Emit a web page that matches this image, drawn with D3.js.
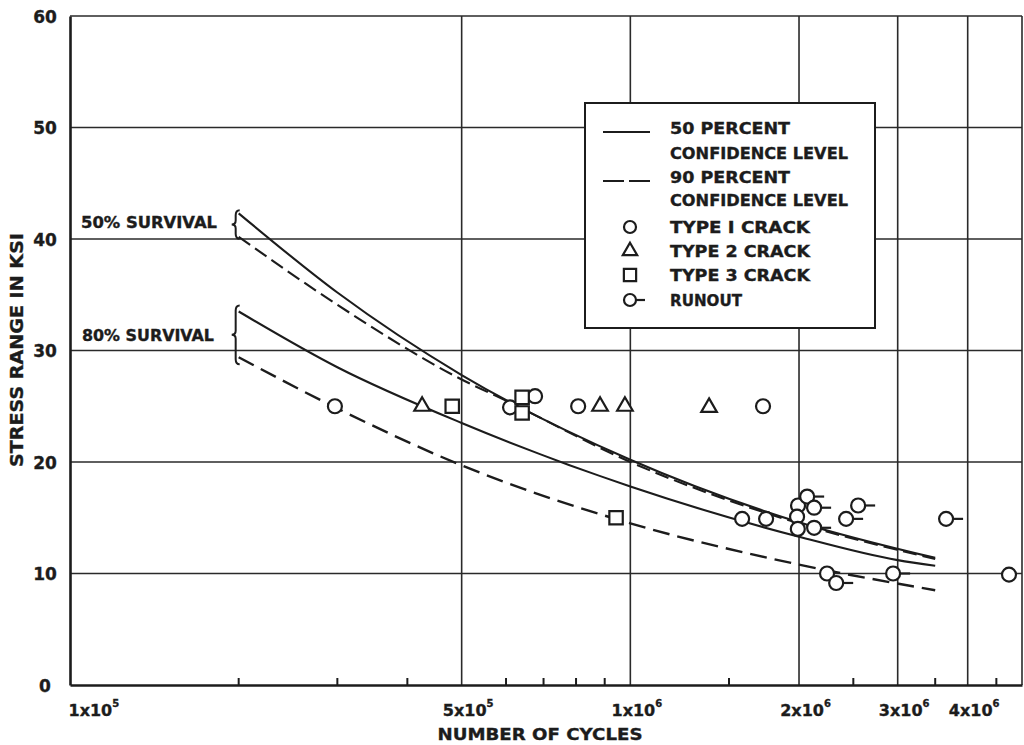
<!DOCTYPE html>
<html>
<head>
<meta charset="utf-8">
<script src="https://cdn.jsdelivr.net/npm/d3@7"></script>
<style>
  body { margin: 0; background: #fff; }
  svg { display: block; }
  text { font-family: "DejaVu Sans", sans-serif; font-weight: bold; fill: #1c1c1c; stroke: #1c1c1c; stroke-width: 0.35px; }
</style>
</head>
<body>
<svg id="chart" width="1024" height="745"></svg>
<script>
// ---- axis ticks ----
const yTicks = [0, 10, 20, 30, 40, 50, 60];
const yGridValues = [10, 20, 30, 40, 50, 60];
const xMajor = [1e5, 5e5, 1e6, 2e6, 3e6, 4e6];
const xMantissa = ["1", "5", "1", "2", "3", "4"];
const xExponent = ["5", "5", "6", "6", "6", "6"];
const xGridValues = [5e5, 1e6, 2e6, 3e6, 4e6, 5e6];
const xMinor = [2e5, 3e5, 4e5, 6e5, 7e5, 8e5, 9e5, 1.5e6, 2.5e6, 3.5e6, 4.5e6];

// ---- S-N curves: [cycles, stress range ksi] ----
const survival50Conf50 = [[2e5, 42.3], [3e5, 35.2], [5e5, 27.8], [1e6, 20.2], [2e6, 14.6], [3.5e6, 11.4]];
const survival50Conf90 = [[2e5, 40.2], [3e5, 34.1], [5e5, 27.4], [6e5, 25.5], [1e6, 20.0], [2e6, 14.5], [3.5e6, 11.3]];
const survival80Conf50 = [[2e5, 33.5], [3e5, 28.5], [5e5, 23.5], [1e6, 17.8], [2e6, 13.3], [3e6, 11.2], [3.5e6, 10.7]];
const survival80Conf90 = [[2e5, 29.4], [3e5, 24.8], [5e5, 19.7], [1e6, 14.5], [2e6, 10.8], [3.5e6, 8.5]];

// ---- test results: [cycles, stress range ksi] ----
const typeOneCracks = [[2.97e5, 25], [6.1e5, 24.9], [6.76e5, 25.9], [8.07e5, 25], [1.725e6, 25],
  [1.583e6, 14.9], [1.747e6, 14.9], [1.992e6, 16.1], [1.984e6, 15.1], [1.99e6, 14.0],
  [2.244e6, 10.0], [4.74e6, 9.9]];
const typeTwoCracks = [[4.25e5, 25], [8.83e5, 25], [9.78e5, 25], [1.382e6, 24.9]];
const typeThreeCracks = [[4.81e5, 25], [6.41e5, 25.8], [6.41e5, 24.4], [9.43e5, 15.0]];
const runouts = [[2.068e6, 16.9], [2.128e6, 15.9], [2.128e6, 14.1], [2.55e6, 16.1], [2.427e6, 14.9],
  [3.66e6, 14.9], [2.33e6, 9.15], [2.944e6, 10.0]];

const legendLabels = ["50 PERCENT", "CONFIDENCE LEVEL", "90 PERCENT", "CONFIDENCE LEVEL",
  "TYPE I CRACK", "TYPE 2 CRACK", "TYPE 3 CRACK", "RUNOUT"];

const ink = "#1c1c1c";
const svg = d3.select("#chart");

const x = d3.scaleLog().domain([1e5, 5e6]).range([70, 1022]);
const y = d3.scaleLinear().domain([0, 60]).range([685, 16]);

// ---- grid ----
const grid = svg.append("g").attr("stroke", "#2a2a2a").attr("stroke-width", 1.6);
grid.selectAll("line.h").data(yGridValues).join("line")
  .attr("x1", x(1e5)).attr("x2", x(5e6))
  .attr("y1", d => y(d)).attr("y2", d => y(d));
grid.selectAll("line.v").data(xGridValues).join("line")
  .attr("x1", d => x(d)).attr("x2", d => x(d))
  .attr("y1", y(0)).attr("y2", y(60));
svg.append("g").attr("stroke", ink).attr("stroke-width", 2)
  .selectAll("line").data(xMinor).join("line")
  .attr("x1", d => x(d)).attr("x2", d => x(d))
  .attr("y1", y(0)).attr("y2", y(0) - 7);

// ---- axes ----
const yAxis = svg.append("g").attr("transform", `translate(${x(1e5)},0)`)
  .call(d3.axisLeft(y).tickValues(yTicks).tickSize(0).tickSizeOuter(0));
yAxis.select(".domain").attr("stroke", ink).attr("stroke-width", 2.6);
yAxis.selectAll("text").attr("x", -25).attr("text-anchor", "middle")
  .attr("dy", "0.37em").style("font-size", "17px");

const xAxis = svg.append("g").attr("transform", `translate(0,${y(0)})`)
  .call(d3.axisBottom(x).tickValues(xMajor).tickSize(0).tickSizeOuter(0).tickFormat(() => ""));
xAxis.select(".domain").attr("stroke", ink).attr("stroke-width", 2.6);
xAxis.selectAll(".tick text").each(function(d, i) {
  const t = d3.select(this)
    .attr("y", 31).attr("dy", null)
    .attr("text-anchor", i === 0 ? "start" : "middle")
    .attr("dx", i === 0 ? -2 : 6)
    .style("font-size", "16px");
  t.text(null);
  t.append("tspan").text(xMantissa[i] + "x10");
  t.append("tspan").attr("dy", -9).style("font-size", "10px").text(xExponent[i]);
});

// axis titles
svg.append("text").attr("x", 540).attr("y", 740).attr("text-anchor", "middle")
  .attr("textLength", 205).attr("lengthAdjust", "spacingAndGlyphs")
  .style("font-size", "16px").text("NUMBER OF CYCLES");
svg.append("text").attr("transform", "translate(23,350) rotate(-90)")
  .attr("text-anchor", "middle")
  .attr("textLength", 234).attr("lengthAdjust", "spacingAndGlyphs")
  .style("font-size", "17px").text("STRESS RANGE IN KSI");

// ---- curves ----
const line = d3.line().x(d => x(d[0])).y(d => y(d[1])).curve(d3.curveMonotoneX);
const curves = svg.append("g").attr("fill", "none").attr("stroke", ink).attr("stroke-width", 2.1);
curves.append("path").attr("d", line(survival50Conf50));
curves.append("path").attr("d", line(survival50Conf90)).attr("stroke-dasharray", "14,6");
curves.append("path").attr("d", line(survival80Conf50));
curves.append("path").attr("d", line(survival80Conf90)).attr("stroke-width", 2.4).attr("stroke-dasharray", "17,8");

// braces grouping each survival band
function brace(top, bot) {
  const xb = x(2e5) - 3, mid = (top + bot) / 2;
  return `M${xb + 4},${top} Q${xb},${top} ${xb},${top + 5} L${xb},${mid - 4} Q${xb},${mid} ${xb - 4},${mid}` +
         ` Q${xb},${mid} ${xb},${mid + 4} L${xb},${bot - 5} Q${xb},${bot} ${xb + 4},${bot}`;
}
const braces = svg.append("g").attr("fill", "none").attr("stroke", ink).attr("stroke-width", 2);
braces.append("path").attr("d", brace(y(survival50Conf50[0][1]) - 3, y(survival50Conf90[0][1]) + 2));
braces.append("path").attr("d", brace(y(survival80Conf50[0][1]) - 6, y(survival80Conf90[0][1]) + 7));

svg.append("text").attr("x", 81).attr("y", 228).attr("textLength", 136)
  .attr("lengthAdjust", "spacingAndGlyphs").style("font-size", "15px").text("50% SURVIVAL");
svg.append("text").attr("x", 82).attr("y", 341).attr("textLength", 132)
  .attr("lengthAdjust", "spacingAndGlyphs").style("font-size", "15px").text("80% SURVIVAL");

// ---- markers ----
const marks = svg.append("g").attr("fill", "#fff").attr("stroke", ink).attr("stroke-width", 2.2);
marks.selectAll("circle.t1").data(typeOneCracks).join("circle")
  .attr("cx", d => x(d[0])).attr("cy", d => y(d[1])).attr("r", 7);
const runG = marks.selectAll("g.run").data(runouts).join("g")
  .attr("transform", d => `translate(${x(d[0])},${y(d[1])})`);
runG.append("line").attr("x1", 7).attr("x2", 17).attr("y1", 0).attr("y2", 0);
runG.append("circle").attr("r", 7);
marks.selectAll("path.t2").data(typeTwoCracks).join("path")
  .attr("transform", d => `translate(${x(d[0])},${y(d[1])})`)
  .attr("d", d3.symbol(d3.symbolTriangle, 105)());
marks.selectAll("path.t3").data(typeThreeCracks).join("path")
  .attr("transform", d => `translate(${x(d[0])},${y(d[1])})`)
  .attr("d", d3.symbol(d3.symbolSquare, 180)());

// ---- legend ----
const lg = svg.append("g");
lg.append("rect").attr("x", 585).attr("y", 103).attr("width", 290).attr("height", 225)
  .attr("fill", "#fff").attr("stroke", ink).attr("stroke-width", 2);
const rowsY = [134, 159, 183, 206, 233, 257, 281, 306];
const widths = [120, 178, 120, 178, 140, 140, 140, 72];
lg.selectAll("text").data(legendLabels).join("text")
  .attr("x", 670).attr("y", (d, i) => rowsY[i])
  .attr("textLength", (d, i) => widths[i]).attr("lengthAdjust", "spacingAndGlyphs")
  .style("font-size", "15px").text(d => d);
const ls = lg.append("g").attr("stroke", ink).attr("stroke-width", 2.2).attr("fill", "#fff");
ls.append("line").attr("x1", 603).attr("x2", 650).attr("y1", 132).attr("y2", 132);
ls.append("line").attr("x1", 603).attr("x2", 650).attr("y1", 181).attr("y2", 181).attr("stroke-dasharray", "21,5");
ls.append("circle").attr("cx", 630).attr("cy", 227).attr("r", 6);
ls.append("path").attr("transform", "translate(630,251)").attr("d", d3.symbol(d3.symbolTriangle, 90)());
ls.append("path").attr("transform", "translate(630,275)").attr("d", d3.symbol(d3.symbolSquare, 150)());
ls.append("line").attr("x1", 636).attr("x2", 645).attr("y1", 300).attr("y2", 300);
ls.append("circle").attr("cx", 630).attr("cy", 300).attr("r", 6);
</script>
</body>
</html>
